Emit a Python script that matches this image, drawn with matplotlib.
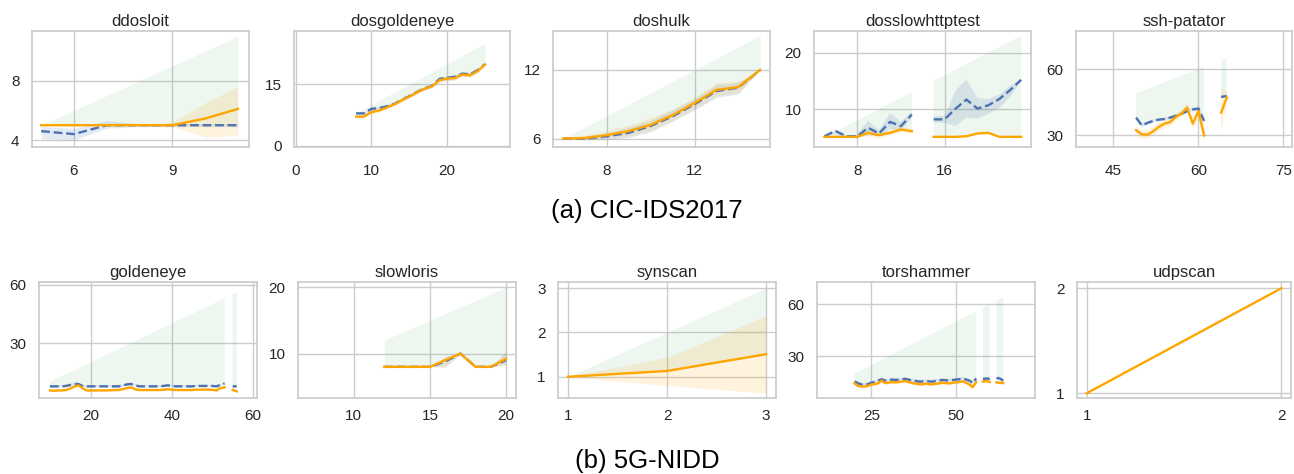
import numpy as np
import matplotlib
matplotlib.use("Agg")
import matplotlib.pyplot as plt

nan = np.nan
plt.rcParams['font.family'] = ['Liberation Sans', 'DejaVu Sans']
plt.rcParams['axes.edgecolor'] = '#cccccc'
plt.rcParams['axes.linewidth'] = 1.25
plt.rcParams['grid.color'] = '#cccccc'
plt.rcParams['grid.linewidth'] = 1.0
plt.rcParams['xtick.color'] = '#262626'
plt.rcParams['ytick.color'] = '#262626'
plt.rcParams['text.color'] = '#262626'

BLUE = '#4C72B0'
ORANGE = '#FFA500'
GREEN = '#55A868'
TITLE_FS = 12
TICK_FS = 11

# ---------------- CIC-IDS2017 ----------------
ddosloit_x = [5, 6, 7, 8, 9, 10, 11]
ddosloit_blue = [4.6, 4.4, 5.0, 5.0, 5.0, 5.0, 5.0]
ddosloit_blue_lo = [4.1, 4.0, 4.8, 4.9, 4.9, 4.9, 4.9]
ddosloit_blue_hi = [4.9, 4.8, 5.3, 5.1, 5.1, 5.1, 5.1]
ddosloit_orange = [5.0, 5.0, 5.0, 5.0, 5.0, 5.45, 6.1]
ddosloit_orange_lo = [5.0, 5.0, 5.0, 5.0, 4.9, 4.2, 4.3]
ddosloit_orange_hi = [5.0, 5.0, 5.0, 5.0, 5.2, 6.5, 7.6]
ddosloit_green_lo = [5.0, 5.0, 5.0, 5.0, 5.0, 5.0, 5.0]
ddosloit_green_hi = [5.0, 6.0, 7.0, 8.0, 9.0, 10.0, 11.0]

dosgoldeneye_x = [8, 9, 10, 11, 12, 13, 14, 15, 16, 17, 18, 19, 20, 21, 22, 23, 24, 25]
dosgoldeneye_blue = [7.9, 7.9, 9.0, 9.2, 9.6, 10.2, 11.2, 12.1, 13.1, 14.0, 14.6, 16.3, 16.6, 16.8, 17.6, 17.4, 18.4, 19.9]
dosgoldeneye_blue_lo = [7.6, 7.6, 8.5, 8.8, 9.2, 9.8, 10.8, 11.7, 12.7, 13.6, 14.2, 15.6, 15.9, 16.1, 17.0, 16.8, 17.9, 19.7]
dosgoldeneye_blue_hi = [8.2, 8.2, 9.4, 9.6, 10.0, 10.6, 11.6, 12.5, 13.5, 14.4, 15.0, 16.8, 17.1, 17.3, 18.1, 17.9, 18.9, 20.1]
dosgoldeneye_orange = [7.1, 7.1, 8.2, 8.6, 9.3, 10.1, 11.1, 12.0, 13.0, 13.9, 14.5, 16.0, 16.4, 16.5, 17.4, 17.2, 18.2, 19.8]
dosgoldeneye_orange_lo = [6.8, 6.8, 7.8, 8.2, 8.9, 9.7, 10.7, 11.6, 12.6, 13.5, 14.1, 15.5, 15.8, 15.9, 16.8, 16.7, 17.7, 19.6]
dosgoldeneye_orange_hi = [7.4, 7.4, 8.6, 9.0, 9.7, 10.5, 11.5, 12.4, 13.4, 14.3, 14.9, 16.5, 16.9, 17.0, 17.9, 17.7, 18.7, 20.0]
dosgoldeneye_green_lo = [7.9, 7.9, 9.0, 9.2, 9.6, 10.2, 11.2, 12.1, 13.1, 14.0, 14.6, 16.3, 16.6, 16.8, 17.6, 17.4, 18.4, 19.9]
dosgoldeneye_green_hi = [8, 9, 10, 11, 12, 13, 14, 15, 16, 17, 18, 19, 20, 21, 22, 23, 24, 25]

doshulk_x = [6, 7, 8, 9, 10, 11, 12, 13, 14, 15]
doshulk_blue = [6.0, 6.0, 6.2, 6.5, 7.1, 7.95, 9.0, 10.15, 10.45, 12.0]
doshulk_blue_lo = [6.0, 5.9, 5.9, 6.1, 6.6, 7.5, 8.5, 9.6, 9.9, 12.0]
doshulk_blue_hi = [6.0, 6.2, 6.5, 7.0, 7.6, 8.5, 9.5, 10.7, 10.9, 12.0]
doshulk_orange = [6.0, 6.05, 6.3, 6.65, 7.2, 8.05, 9.1, 10.25, 10.5, 12.0]
doshulk_orange_lo = [6.0, 5.9, 6.0, 6.2, 6.7, 7.6, 8.6, 9.7, 10.0, 12.0]
doshulk_orange_hi = [6.0, 6.3, 6.7, 7.2, 7.8, 8.6, 9.6, 10.9, 11.0, 12.0]
doshulk_green_lo = [6.0, 6.05, 6.3, 6.65, 7.2, 8.05, 9.1, 10.25, 10.5, 12.0]
doshulk_green_hi = [6, 7, 8, 9, 10, 11, 12, 13, 14, 15]

dosslow_x = [5, 6, 7, 8, 9, 10, 11, 12, 13, 14, 15, 16, 17, 18, 19, 20, 21, 22, 23]
dosslow_blue = [5.2, 6.15, 5.2, 5.2, 6.7, 5.7, 7.75, 7.0, 9.05, nan, 8.2, 8.2, 10.1, 11.7, 10.1, 10.7, 11.8, 13.4, 15.2]
dosslow_blue_lo = [5.2, 5.6, 4.9, 5.0, 5.3, 5.2, 6.5, 6.2, 8.5, nan, 7.6, 7.6, 7.0, 8.5, 8.3, 9.2, 10.2, 12.2, 15.0]
dosslow_blue_hi = [5.2, 6.5, 5.4, 5.5, 8.0, 6.3, 9.3, 7.8, 9.6, nan, 8.8, 8.8, 13.3, 15.2, 12.0, 11.8, 12.6, 14.2, 15.4]
dosslow_orange = [5.1, 5.1, 5.1, 5.1, 5.8, 5.4, 5.8, 6.4, 6.1, nan, 5.1, 5.1, 5.1, 5.2, 5.7, 5.8, 5.1, 5.1, 5.1]
dosslow_orange_lo = [5.1, 5.1, 5.0, 5.0, 5.2, 4.8, 5.3, 5.8, 5.8, nan, 5.1, 5.1, 5.1, 5.1, 5.5, 5.6, 5.1, 5.1, 5.1]
dosslow_orange_hi = [5.1, 5.1, 5.2, 5.2, 6.3, 5.9, 6.3, 7.0, 6.4, nan, 5.1, 5.1, 5.1, 5.3, 5.9, 6.0, 5.1, 5.1, 5.1]
dosslow_green_lo = [5.1, 5.1, 5.1, 5.1, 5.8, 5.4, 5.8, 6.4, 6.1, nan, 5.1, 5.1, 5.1, 5.2, 5.7, 5.8, 5.1, 5.1, 5.1]
dosslow_green_hi = [5, 6, 7, 8, 9, 10, 11, 12, 13, nan, 15, 16, 17, 18, 19, 20, 21, 22, 23]

ssh_x = [49, 50, 51, 52, 53, 54, 55, 56, 57, 58, 59, 60, 61, 62, 63, 64, 65]
ssh_blue = [38.0, 34.5, 35.6, 36.5, 37.1, 37.4, 38.0, 38.8, 39.8, 40.9, 41.7, 42.1, 36.5, nan, nan, 47.4, 47.8]
ssh_blue_lo = [37.0, 33.5, 34.8, 35.8, 36.4, 36.7, 37.3, 38.0, 39.0, 40.0, 40.8, 41.2, 35.0, nan, nan, 46.8, 47.2]
ssh_blue_hi = [39.0, 35.5, 36.4, 37.2, 37.8, 38.1, 38.7, 39.6, 40.6, 41.8, 42.6, 43.0, 38.0, nan, nan, 48.0, 48.4]
ssh_orange = [32.3, 30.5, 30.3, 31.8, 33.8, 35.3, 36.0, 38.3, 39.8, 42.6, 35.3, 41.0, 30.0, nan, nan, 40.3, 47.1]
ssh_orange_lo = [30.5, 28.5, 28.3, 29.8, 31.8, 33.5, 34.0, 36.5, 38.0, 41.0, 33.0, 37.0, 27.0, nan, nan, 30.5, 44.0]
ssh_orange_hi = [34.0, 32.5, 32.3, 33.8, 35.8, 37.0, 38.0, 40.0, 41.5, 44.2, 38.0, 44.0, 34.0, nan, nan, 51.5, 50.0]
ssh_green_lo = [38.0, 34.5, 35.6, 36.5, 37.1, 37.4, 38.0, 38.8, 39.8, 40.9, 41.7, 42.1, 36.5, nan, nan, 47.4, 47.8]
ssh_green_hi = [49, 50, 51, 52, 53, 54, 55, 56, 57, 58, 59, 60, 61, nan, nan, 64, 65]

# ---------------- 5G-NIDD ----------------
golden_x = [10, 11, 12, 13, 14, 15, 16, 17, 18, 19, 20, 21, 22, 23, 24, 25, 26, 27, 28, 29, 30, 31, 32,
            33, 34, 35, 36, 37, 38, 39, 40, 41, 42, 43, 44, 45, 46, 47, 48, 49, 50, 51, 52, 53, 54, 55, 56]
golden_blue = [7.7, 7.7, 7.7, 7.7, 7.9, 8.4, 8.9, 8.9, 7.9, 7.7, 7.7, 7.7, 7.7, 7.7, 7.7, 7.7, 7.7, 7.7, 8.2, 8.7, 8.9, 8.2, 7.7,
               7.7, 7.7, 7.7, 7.7, 7.7, 7.9, 8.2, 7.9, 7.7, 7.7, 7.7, 7.7, 7.7, 7.9, 7.9, 7.9, 7.9, 7.9, 7.7, 8.4, 9.2, nan, 7.7, 7.7]
golden_orange = [5.6, 5.4, 5.6, 5.6, 5.8, 6.6, 7.6, 8.2, 6.8, 5.6, 5.6, 5.6, 5.6, 5.6, 5.6, 5.7, 5.8, 5.8, 6.3, 6.8, 7.2, 6.2, 5.8,
                 5.8, 5.8, 5.8, 5.8, 5.8, 6.0, 6.2, 6.0, 5.8, 5.8, 5.8, 5.8, 5.8, 6.0, 6.0, 6.0, 6.0, 5.9, 5.6, 6.8, 7.2, nan, 5.9, 5.1]
golden_green_hi = [10, 11, 12, 13, 14, 15, 16, 17, 18, 19, 20, 21, 22, 23, 24, 25, 26, 27, 28, 29, 30, 31, 32,
                   33, 34, 35, 36, 37, 38, 39, 40, 41, 42, 43, 44, 45, 46, 47, 48, 49, 50, 51, 52, 53, nan, 55, 56]

slow_x = [12, 13, 14, 15, 16, 17, 18, 19, 20]
slow_blue = [8.0, 8.0, 8.0, 8.0, 8.8, 10.0, 8.0, 8.0, 9.0]
slow_orange = [8.0, 8.0, 8.0, 8.0, 9.0, 10.0, 8.0, 8.0, 9.2]
slow_band_lo = [8.0, 8.0, 8.0, 8.0, 8.0, 9.9, 8.0, 8.0, 8.3]
slow_band_hi = [8.0, 8.0, 8.0, 8.0, 9.5, 10.1, 8.0, 8.0, 10.3]
slow_green_lo = [8.0, 8.0, 8.0, 8.0, 9.0, 10.0, 8.0, 8.0, 9.2]
slow_green_hi = [12, 13, 14, 15, 16, 17, 18, 19, 20]

syn_x = [1, 2, 3]
syn_orange = [1.0, 1.13, 1.51]
syn_orange_lo = [1.0, 0.8, 0.63]
syn_orange_hi = [1.0, 1.44, 2.37]
syn_green_lo = [1.0, 1.13, 1.51]
syn_green_hi = [1, 2, 3]

tor_x = [20, 21, 22, 23, 24, 25, 26, 27, 28, 29, 30, 31, 32, 33, 34, 35, 36, 37, 38, 39, 40, 41, 42,
         43, 44, 45, 46, 47, 48, 49, 50, 51, 52, 53, 54, 55, 56, 57, 58, 59, 60, 61, 62, 63, 64]
tor_blue = [15.5, 14.5, 13.8, 13.5, 14.0, 14.8, 15.2, 16.0, 16.8, 16.0, 16.2, 16.6, 16.4, 16.5, 16.6, 17.0, 16.6, 16.0, 15.8,
            15.5, 15.5, 15.8, 15.6, 15.4, 15.8, 16.0, 16.4, 16.2, 16.0, 16.3, 16.6, 16.8, 17.2, 16.6, 16.0, 14.5, 17.2,
            nan, 17.0, 17.2, 17.0, nan, 17.5, 17.2, 16.0]
tor_orange = [14.5, 13.0, 12.6, 12.6, 13.0, 13.8, 14.0, 14.5, 16.0, 14.6, 14.8, 15.2, 15.0, 15.2, 15.4, 15.8, 15.2, 14.6, 14.3,
              14.0, 13.9, 14.3, 14.0, 13.8, 14.2, 14.4, 14.8, 14.6, 14.4, 14.7, 15.0, 15.2, 15.6, 14.8, 13.8, 12.2, 15.2,
              nan, 15.5, 15.8, 15.2, nan, 15.0, 14.8, 14.6]
tor_green_hi = [20, 21, 22, 23, 24, 25, 26, 27, 28, 29, 30, 31, 32, 33, 34, 35, 36, 37, 38, 39, 40, 41, 42,
                43, 44, 45, 46, 47, 48, 49, 50, 51, 52, 53, 54, 55, 56, nan, 58, 59, 60, nan, 62, 63, 64]

udp_x = [1, 2]
udp_orange = [1, 2]


def arr(v):
    return np.asarray(v, dtype=float)


def band(ax, x, lo, hi, color, alpha):
    ax.fill_between(arr(x), arr(lo), arr(hi), color=color, alpha=alpha, linewidth=0)


def line_blue(ax, x, y):
    ax.plot(arr(x), arr(y), color=BLUE, linestyle=(0, (3.7, 1.6)), linewidth=1.7)


def line_orange(ax, x, y):
    ax.plot(arr(x), arr(y), color=ORANGE, linewidth=1.7)


fig = plt.figure(figsize=(12.94, 4.74), dpi=100)
W, H = 1294.0, 474.0


def make_ax(l, r, t, b):
    ax = fig.add_axes([l / W, 1 - b / H, (r - l) / W, (b - t) / H])
    ax.set_facecolor('white')
    ax.grid(True)
    ax.set_axisbelow(True)
    for s in ax.spines.values():
        s.set_color('#cccccc')
        s.set_linewidth(1.25)
    ax.tick_params(length=0, labelsize=TICK_FS)
    return ax


def title(ax, s):
    ax.set_title(s, fontsize=TITLE_FS, pad=3.5)


top_pos = [(32, 249), (294, 510), (553, 770), (814, 1031), (1076, 1292)]
bot_pos = [(39, 257), (298, 516), (558, 776), (817, 1035), (1077, 1291)]
axes_top = [make_ax(l, r, 31, 147) for l, r in top_pos]
axes_bot = [make_ax(l, r, 282, 398) for l, r in bot_pos]

# ddosloit
ax = axes_top[0]
band(ax, ddosloit_x, ddosloit_green_lo, ddosloit_green_hi, GREEN, 0.1)
band(ax, ddosloit_x, ddosloit_blue_lo, ddosloit_blue_hi, BLUE, 0.15)
band(ax, ddosloit_x, ddosloit_orange_lo, ddosloit_orange_hi, ORANGE, 0.13)
line_blue(ax, ddosloit_x, ddosloit_blue)
line_orange(ax, ddosloit_x, ddosloit_orange)
ax.set_xlim(4.72, 11.34); ax.set_ylim(3.53, 11.36)
ax.set_xticks([6, 9]); ax.set_yticks([4, 8])
title(ax, 'ddosloit')

# dosgoldeneye
ax = axes_top[1]
band(ax, dosgoldeneye_x, dosgoldeneye_green_lo, dosgoldeneye_green_hi, GREEN, 0.1)
band(ax, dosgoldeneye_x, dosgoldeneye_blue_lo, dosgoldeneye_blue_hi, BLUE, 0.15)
band(ax, dosgoldeneye_x, dosgoldeneye_orange_lo, dosgoldeneye_orange_hi, ORANGE, 0.13)
line_blue(ax, dosgoldeneye_x, dosgoldeneye_blue)
line_orange(ax, dosgoldeneye_x, dosgoldeneye_orange)
ax.set_xlim(-0.2, 28.3); ax.set_ylim(-0.3, 28.0)
ax.set_xticks([0, 10, 20]); ax.set_yticks([0, 15])
title(ax, 'dosgoldeneye')

# doshulk
ax = axes_top[2]
band(ax, doshulk_x, doshulk_green_lo, doshulk_green_hi, GREEN, 0.1)
band(ax, doshulk_x, doshulk_blue_lo, doshulk_blue_hi, BLUE, 0.15)
band(ax, doshulk_x, doshulk_orange_lo, doshulk_orange_hi, ORANGE, 0.13)
line_blue(ax, doshulk_x, doshulk_blue)
line_orange(ax, doshulk_x, doshulk_orange)
ax.set_xlim(5.53, 15.45); ax.set_ylim(5.26, 15.4)
ax.set_xticks([8, 12]); ax.set_yticks([6, 12])
title(ax, 'doshulk')

# dosslowhttptest
ax = axes_top[3]
band(ax, dosslow_x, dosslow_green_lo, dosslow_green_hi, GREEN, 0.1)
band(ax, dosslow_x, dosslow_blue_lo, dosslow_blue_hi, BLUE, 0.15)
band(ax, dosslow_x, dosslow_orange_lo, dosslow_orange_hi, ORANGE, 0.13)
line_blue(ax, dosslow_x, dosslow_blue)
line_orange(ax, dosslow_x, dosslow_orange)
ax.set_xlim(4.05, 23.9); ax.set_ylim(3.3, 23.85)
ax.set_xticks([8, 16]); ax.set_yticks([10, 20])
title(ax, 'dosslowhttptest')

# ssh-patator
ax = axes_top[4]
band(ax, ssh_x, ssh_green_lo, ssh_green_hi, GREEN, 0.1)
band(ax, ssh_x, ssh_blue_lo, ssh_blue_hi, BLUE, 0.15)
band(ax, ssh_x, ssh_orange_lo, ssh_orange_hi, ORANGE, 0.13)
line_blue(ax, ssh_x, ssh_blue)
line_orange(ax, ssh_x, ssh_orange)
ax.set_xlim(38.4, 76.5); ax.set_ylim(24.7, 77.3)
ax.set_xticks([45, 60, 75]); ax.set_yticks([30, 60])
title(ax, 'ssh-patator')

# goldeneye
ax = axes_bot[0]
g_blue = arr(golden_blue)
g_or = arr(golden_orange)
band(ax, golden_x, g_blue, golden_green_hi, GREEN, 0.1)
band(ax, golden_x, g_blue - 0.6, g_blue + 0.6, BLUE, 0.15)
band(ax, golden_x, g_or - 0.5, g_or + 0.5, ORANGE, 0.13)
line_blue(ax, golden_x, golden_blue)
line_orange(ax, golden_x, golden_orange)
ax.set_xlim(7.3, 61.0); ax.set_ylim(1.7, 61.4)
ax.set_xticks([20, 40, 60]); ax.set_yticks([30, 60])
title(ax, 'goldeneye')

# slowloris
ax = axes_bot[1]
band(ax, slow_x, slow_green_lo, slow_green_hi, GREEN, 0.1)
band(ax, slow_x, slow_band_lo, slow_band_hi, BLUE, 0.15)
band(ax, slow_x, slow_band_lo, slow_band_hi, ORANGE, 0.13)
line_blue(ax, slow_x, slow_blue)
line_orange(ax, slow_x, slow_orange)
ax.set_xlim(6.33, 20.66); ax.set_ylim(3.3, 20.8)
ax.set_xticks([10, 15, 20]); ax.set_yticks([10, 20])
title(ax, 'slowloris')

# synscan
ax = axes_bot[2]
band(ax, syn_x, syn_green_lo, syn_green_hi, GREEN, 0.1)
band(ax, syn_x, syn_orange_lo, syn_orange_hi, ORANGE, 0.13)
line_orange(ax, syn_x, syn_orange)
ax.set_xlim(0.9, 3.1); ax.set_ylim(0.52, 3.14)
ax.set_xticks([1, 2, 3]); ax.set_yticks([1, 2, 3])
title(ax, 'synscan')

# torshammer
ax = axes_bot[3]
t_blue = arr(tor_blue)
t_or = arr(tor_orange)
band(ax, tor_x, t_blue, tor_green_hi, GREEN, 0.1)
band(ax, tor_x, t_blue - 1.0, t_blue + 1.0, BLUE, 0.15)
band(ax, tor_x, t_or - 1.0, t_or + 1.0, ORANGE, 0.13)
line_blue(ax, tor_x, tor_blue)
line_orange(ax, tor_x, tor_orange)
ax.set_xlim(8.9, 73.4); ax.set_ylim(6.0, 72.8)
ax.set_xticks([25, 50]); ax.set_yticks([30, 60])
title(ax, 'torshammer')

# udpscan
ax = axes_bot[4]
line_orange(ax, udp_x, udp_orange)
ax.set_xlim(0.95, 2.05); ax.set_ylim(0.955, 2.06)
ax.set_xticks([1, 2]); ax.set_yticks([1, 2])
title(ax, 'udpscan')

for ax in axes_top:
    ax.tick_params(axis='x', pad=12)
    ax.tick_params(axis='y', pad=9)
for ax in axes_bot:
    ax.tick_params(axis='x', pad=8)
    ax.tick_params(axis='y', pad=9)

fig.text(647 / W, 1 - 211 / H, '(a) CIC-IDS2017', ha='center', va='center', fontsize=18.5, color='black')
fig.text(647 / W, 1 - 461 / H, '(b) 5G-NIDD', ha='center', va='center', fontsize=18.5, color='black')

fig.savefig('out.png', dpi=100, facecolor='white')
